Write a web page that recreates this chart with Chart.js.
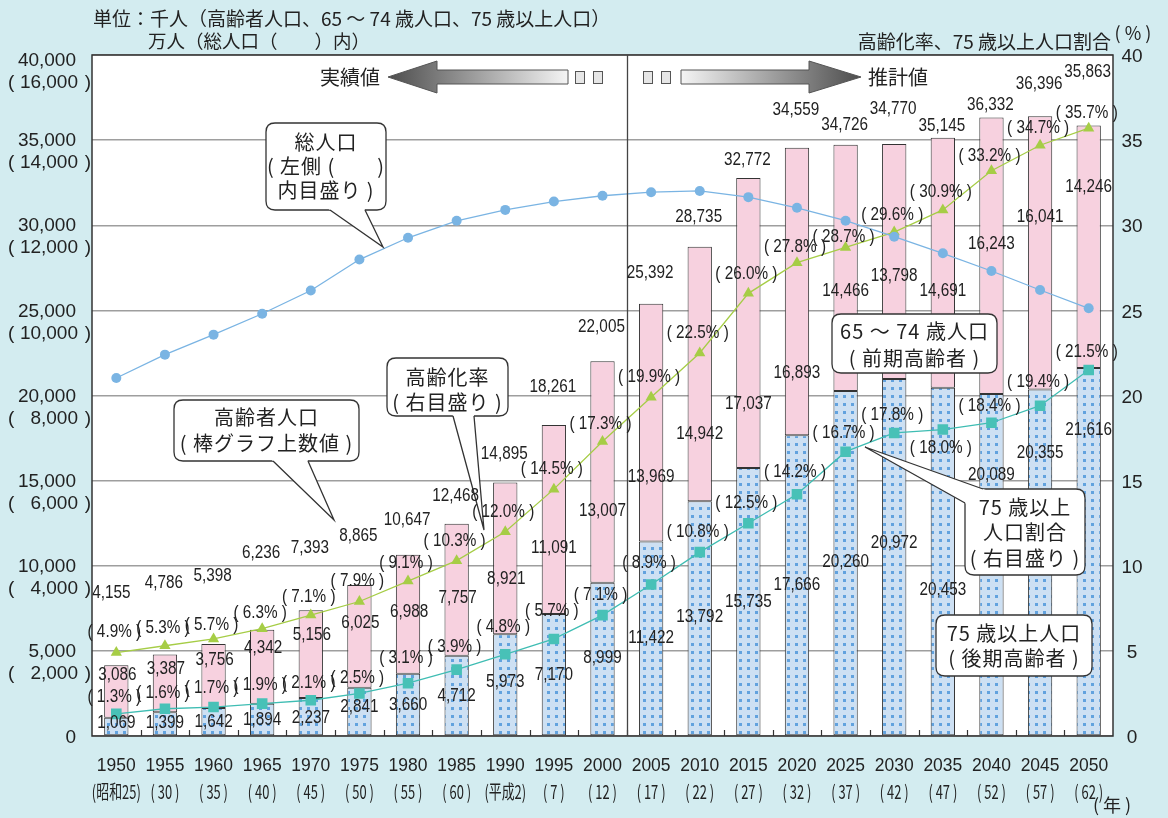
<!DOCTYPE html>
<html><head><meta charset="utf-8">
<script src="https://cdn.jsdelivr.net/npm/chart.js@4/dist/chart.umd.min.js"></script>
<style>html,body{margin:0;padding:0;background:#d3ecf0;}canvas{display:block;}</style>
</head><body>
<canvas id="c" width="1168" height="818"></canvas>
<script>
// ---------- DATA ----------
const years = ['1950','1955','1960','1965','1970','1975','1980','1985','1990','1995','2000','2005','2010','2015','2020','2025','2030','2035','2040','2045','2050'];
const eraLabels = ['(昭和25)','( 30 )','( 35 )','( 40 )','( 45 )','( 50 )','( 55 )','( 60 )','(平成2)','( 7 )','( 12 )','( 17 )','( 22 )','( 27 )','( 32 )','( 37 )','( 42 )','( 47 )','( 52 )','( 57 )','( 62 )'];
// 千人
const pop75plus = [1069,1399,1642,1894,2237,2841,3660,4712,5973,7170,8999,11422,13792,15735,17666,20260,20972,20453,20089,20355,21616];
const pop65to74 = [3086,3387,3756,4342,5156,6025,6988,7757,8921,11091,13007,13969,14942,17037,16893,14466,13798,14691,16243,16041,14246];
const pop65plus = [4155,4786,5398,6236,7393,8865,10647,12468,14895,18261,22005,25392,28735,32772,34559,34726,34770,35145,36332,36396,35863];
// 万人
const totalPop = [8411,8960,9430,9921,10467,11194,11706,12105,12361,12557,12693,12777,12806,12660,12410,12107,11731,11341,10925,10479,10049];
// %
const agingRate = [4.9,5.3,5.7,6.3,7.1,7.9,9.1,10.3,12.0,14.5,17.3,19.9,22.5,26.0,27.8,28.7,29.6,30.9,33.2,34.7,35.7];
const share75plus = [1.3,1.6,1.7,1.9,2.1,2.5,3.1,3.9,4.8,5.7,7.1,8.9,10.8,12.5,14.2,16.7,17.8,18.0,18.4,19.4,21.5];
const leftTickStep = 5000, leftMax = 40000, popMax = 16000, rateMax = 40, rateStep = 5;

// ---------- LABEL LAYOUT (pixel offsets only) ----------
const totalLblDy = [-72,-71,-68,-77,-62,-49,-35,-28,-28,-38,-34,-31,-30,-18,-38,-20,-35,-12,-12,-32,-53];
const pinkLblDy  = [10,15,16,18,25,38,57,74,97,123,150,173,187,226,225,146,132,153,127,101,62];
const blueLblDy  = [5,11,14,16,20,19,31,40,48,61,75,96,116,134,150,171,164,202,81,64,62];
const rateLblDy  = [-21,-18,-14,-16,-18,-20,-18,-20,-20,-20,-17,-20,-20,-19,-16,-10,-17,-18,-15,-17,-15];
const shareLblDy = [-17,-16,-19,-19,-17,-15,-25,-23,-27,-28,-20,-21,-20,-20,-22,-19,-18,18,-17,-24,-18];

const NUM = '"Liberation Sans", Arial, sans-serif';
const JP = '"Noto Sans CJK JP", "Noto Sans", sans-serif';
const fmt = v => v.toLocaleString('en-US');

function txt(ctx, s, x, y, o) {
  o = o || {};
  ctx.save();
  ctx.font = o.font || ('18px ' + NUM);
  ctx.fillStyle = o.color || '#222';
  ctx.textAlign = o.align || 'center';
  ctx.textBaseline = 'middle';
  if (o.ls) ctx.letterSpacing = o.ls;
  ctx.translate(x, y);
  ctx.scale(o.sx || 1, 1);
  ctx.fillText(s, 0, 0);
  ctx.restore();
}

function rr(ctx, x, y, w, h, r) {
  ctx.beginPath();
  ctx.moveTo(x + r, y);
  ctx.lineTo(x + w - r, y); ctx.quadraticCurveTo(x + w, y, x + w, y + r);
  ctx.lineTo(x + w, y + h - r); ctx.quadraticCurveTo(x + w, y + h, x + w - r, y + h);
  ctx.lineTo(x + r, y + h); ctx.quadraticCurveTo(x, y + h, x, y + h - r);
  ctx.lineTo(x, y + r); ctx.quadraticCurveTo(x, y, x + r, y);
  ctx.closePath();
}

function callout(ctx, b, lines, tail) {
  ctx.save();
  ctx.lineWidth = 1.3; ctx.strokeStyle = '#333'; ctx.fillStyle = '#fff';
  rr(ctx, b.x, b.y, b.w, b.h, 9); ctx.fill(); ctx.stroke();
  if (tail) {
    const ext = (p) => { const dx = p[0]-tail.tip[0], dy = p[1]-tail.tip[1], L = Math.hypot(dx,dy); return [p[0]+dx/L*3, p[1]+dy/L*3]; };
    const ia = ext(tail.a), ib = ext(tail.b);
    ctx.beginPath(); ctx.moveTo(ia[0], ia[1]); ctx.lineTo(tail.tip[0], tail.tip[1]); ctx.lineTo(ib[0], ib[1]); ctx.closePath(); ctx.fill();
    ctx.beginPath(); ctx.moveTo(tail.a[0], tail.a[1]); ctx.lineTo(tail.tip[0], tail.tip[1]); ctx.lineTo(tail.b[0], tail.b[1]); ctx.stroke();
  }
  ctx.restore();
  const cx = b.x + b.w / 2;
  lines.forEach((l, i) => txt(ctx, l, cx, b.ty + i * b.lh, {font: '20px ' + JP, ls: '1px'}));
}

function arrow(ctx, tipX, baseX, endX, cy) {
  const hh = 16, sh = 7;
  ctx.save();
  ctx.beginPath();
  ctx.moveTo(tipX, cy);
  ctx.lineTo(baseX, cy - hh); ctx.lineTo(baseX, cy - sh); ctx.lineTo(endX, cy - sh);
  ctx.lineTo(endX, cy + sh); ctx.lineTo(baseX, cy + sh); ctx.lineTo(baseX, cy + hh);
  ctx.closePath();
  const g = ctx.createLinearGradient(tipX, 0, endX, 0);
  g.addColorStop(0, '#4d4d4d'); g.addColorStop(1, '#f4f4f4');
  ctx.fillStyle = g; ctx.fill();
  ctx.strokeStyle = '#555'; ctx.lineWidth = 1; ctx.stroke();
  ctx.restore();
}
function sq(ctx, x, y, w, h) {
  ctx.save(); ctx.fillStyle = '#e6e6e6'; ctx.strokeStyle = '#555'; ctx.lineWidth = 1;
  ctx.fillRect(x, y, w, h); ctx.strokeRect(x + 0.5, y + 0.5, w, h); ctx.restore();
}

const bgPlugin = {
  id: 'bg',
  beforeDraw(chart) {
    const {ctx, chartArea: a} = chart;
    ctx.save();
    ctx.fillStyle = '#d3ecf0'; ctx.fillRect(0, 0, chart.width, chart.height);
    ctx.fillStyle = '#fff'; ctx.fillRect(a.left, a.top, a.right - a.left, a.bottom - a.top);
    ctx.restore();
  }
};

const overlayPlugin = {
  id: 'overlay',
  afterDraw(chart) {
    const {ctx, chartArea: a, scales} = chart;
    const xs = scales.x, ys = scales.y, yr = scales.yRate;
    const n = years.length;
    // frame
    ctx.save();
    ctx.strokeStyle = '#333'; ctx.lineWidth = 1.5;
    ctx.strokeRect(a.left, a.top, a.right - a.left, a.bottom - a.top);
    // category boundary ticks
    ctx.lineWidth = 1.2;
    for (let i = 0; i < n - 1; i++) {
      const bx = Math.round((xs.getPixelForValue(i) + xs.getPixelForValue(i + 1)) / 2) + 0.5;
      ctx.beginPath(); ctx.moveTo(bx, a.bottom); ctx.lineTo(bx, a.bottom - 6); ctx.stroke();
    }
    // divider between actual and projected
    const dx = Math.round((xs.getPixelForValue(10) + xs.getPixelForValue(11)) / 2) + 0.5;
    ctx.strokeStyle = '#444'; ctx.lineWidth = 1.3;
    ctx.beginPath(); ctx.moveTo(dx, a.top); ctx.lineTo(dx, a.bottom); ctx.stroke();
    ctx.restore();

    // left axis labels
    ys.ticks.forEach(t => {
      const v = t.value, y = ys.getPixelForValue(v);
      if (v === 0) { txt(ctx, '0', 76, y + 2, {font: '19px ' + NUM, align: 'right'}); return; }
      const off = v === leftMax ? 6 : 1;
      txt(ctx, fmt(v), 76, y + off, {font: '19px ' + NUM, align: 'right'});
      txt(ctx, '(', 8, y + off + 22, {font: '19px ' + NUM, align: 'left'});
      txt(ctx, fmt(v * popMax / leftMax), 78, y + off + 22, {font: '19px ' + NUM, align: 'right'});
      txt(ctx, ')', 91, y + off + 22, {font: '19px ' + NUM, align: 'right'});
    });
    // right axis labels
    for (let v = 0; v <= rateMax; v += rateStep) {
      txt(ctx, String(v), 1132, yr.getPixelForValue(v) + 2, {font: '19px ' + NUM});
    }
    // x labels
    for (let i = 0; i < n; i++) {
      const x = xs.getPixelForValue(i);
      txt(ctx, years[i], x, 766, {font: '19px ' + NUM, sx: 0.92});
      txt(ctx, eraLabels[i], x, 792, {font: '19px ' + JP, sx: 0.68});
    }
    txt(ctx, '( 年 )', 1112, 805, {font: '18px ' + JP});

    // headers
    txt(ctx, '単位：千人（高齢者人口、65 ～ 74 歳人口、75 歳以上人口）', 93, 19, {font: '19px ' + JP, align: 'left'});
    txt(ctx, '万人（総人口（　　）内）', 148, 41, {font: '18.5px ' + JP, align: 'left'});
    txt(ctx, '高齢化率、75 歳以上人口割合', 1111, 42, {font: '19px ' + JP, align: 'right'});
    txt(ctx, '( % )', 1133, 33, {font: '18px ' + JP});

    // arrows
    arrow(ctx, 388, 437, 568, 77);
    sq(ctx, 575, 71, 9, 12); sq(ctx, 593, 71, 9, 12);
    txt(ctx, '実績値', 380, 77, {font: '20px ' + JP, align: 'right'});
    arrow(ctx, 861, 809, 681, 77);
    sq(ctx, 643, 71, 9, 12); sq(ctx, 661, 71, 9, 12);
    txt(ctx, '推計値', 868, 77, {font: '20px ' + JP, align: 'left'});

    // callouts (drawn before value labels so numbers stay readable)
    callout(ctx, {x: 266, y: 123, w: 120, h: 87, ty: 142, lh: 24}, ['総人口', '( 左側 (　　)', '内目盛り )'],
      {a: [330, 210], b: [365, 210], tip: [383, 247]});
    callout(ctx, {x: 174, y: 400, w: 185, h: 61, ty: 417, lh: 26}, ['高齢者人口', '( 棒グラフ上数値 )'],
      {a: [273, 461], b: [308, 461], tip: [334, 520]});
    callout(ctx, {x: 387, y: 358, w: 121, h: 58, ty: 377, lh: 25}, ['高齢化率', '( 右目盛り )'],
      {a: [453, 416], b: [474, 416], tip: [484, 530]});
    callout(ctx, {x: 832, y: 314, w: 165, h: 59, ty: 331, lh: 27}, ['65 ～ 74 歳人口', '( 前期高齢者 )']);
    callout(ctx, {x: 965, y: 489, w: 120, h: 86, ty: 507, lh: 25.5}, ['75 歳以上', '人口割合', '( 右目盛り )'],
      {a: [965, 503], b: [983, 489], tip: [865, 447]});
    callout(ctx, {x: 936, y: 615, w: 156, h: 61, ty: 633, lh: 25}, ['75 歳以上人口', '( 後期高齢者 )']);

    // data labels
    const nf = {font: '18px ' + NUM, sx: 0.85};
    for (let i = 0; i < n; i++) {
      const x = xs.getPixelForValue(i);
      const yTot = ys.getPixelForValue(pop65plus[i]);
      const yBlue = ys.getPixelForValue(pop75plus[i]);
      txt(ctx, fmt(pop65plus[i]), x + (i === 0 ? -5 : -1), yTot + totalLblDy[i], nf);
      txt(ctx, fmt(pop65to74[i]), x + (i < 9 ? 1 : 0), yTot + pinkLblDy[i], nf);
      txt(ctx, fmt(pop75plus[i]), x, yBlue + blueLblDy[i], nf);
      txt(ctx, '( ' + agingRate[i].toFixed(1) + '% )', x - 2, yr.getPixelForValue(agingRate[i]) + rateLblDy[i], nf);
      txt(ctx, '( ' + share75plus[i].toFixed(1) + '% )', x - 2, yr.getPixelForValue(share75plus[i]) + shareLblDy[i], nf);
    }
  }
};

const canvas = document.getElementById('c');
const ctx = canvas.getContext('2d');
const pc = document.createElement('canvas'); pc.width = 8; pc.height = 8;
const pcx = pc.getContext('2d');
pcx.fillStyle = '#cde0f3'; pcx.fillRect(0, 0, 8, 8);
pcx.fillStyle = '#62a2de'; pcx.fillRect(3, 3, 3, 3);
const dots = ctx.createPattern(pc, 'repeat');

new Chart(ctx, {
  type: 'bar',
  data: {
    labels: years,
    datasets: [
      {type: 'line', label: '総人口', data: totalPop, yAxisID: 'yPop', borderColor: '#7ab4e3', backgroundColor: '#7ab4e3', borderWidth: 1.3, pointRadius: 5, pointStyle: 'circle', pointBorderWidth: 0, order: 1},
      {type: 'line', label: '高齢化率', data: agingRate, yAxisID: 'yRate', borderColor: '#a6cd46', backgroundColor: '#a6cd46', borderWidth: 1.3, pointRadius: 6.5, pointStyle: 'triangle', pointBorderWidth: 0, order: 1},
      {type: 'line', label: '75歳以上人口割合', data: share75plus, yAxisID: 'yRate', borderColor: '#3fbdb3', backgroundColor: '#48c1b7', borderWidth: 1.3, pointRadius: 7.5, pointStyle: 'rect', pointBorderWidth: 0, order: 1},
      {label: '75歳以上人口', data: pop75plus, yAxisID: 'y', stack: 's', backgroundColor: dots, borderColor: '#333', borderWidth: 1, borderSkipped: false, order: 2},
      {label: '65～74歳人口', data: pop65to74, yAxisID: 'y', stack: 's', backgroundColor: '#f7d1df', borderColor: '#333', borderWidth: 1, borderSkipped: false, order: 2}
    ]
  },
  options: {
    responsive: false, animation: false, devicePixelRatio: 1,
    layout: {padding: {left: 92, right: 55, top: 55, bottom: 82}},
    plugins: {legend: {display: false}, tooltip: {enabled: false}},
    datasets: {bar: {categoryPercentage: 1, barPercentage: 0.5}},
    scales: {
      x: {stacked: true, display: false, offset: true},
      y: {stacked: true, min: 0, max: leftMax, position: 'left',
          ticks: {display: false, stepSize: leftTickStep},
          grid: {color: '#9e9e9e', lineWidth: 1.5, drawTicks: false},
          border: {display: false},
          afterFit(s) { s.width = 0; }},
      yRate: {min: 0, max: rateMax, position: 'right', display: false},
      yPop: {min: 0, max: popMax, position: 'left', display: false}
    }
  },
  plugins: [bgPlugin, overlayPlugin]
});
</script>
</body></html>
